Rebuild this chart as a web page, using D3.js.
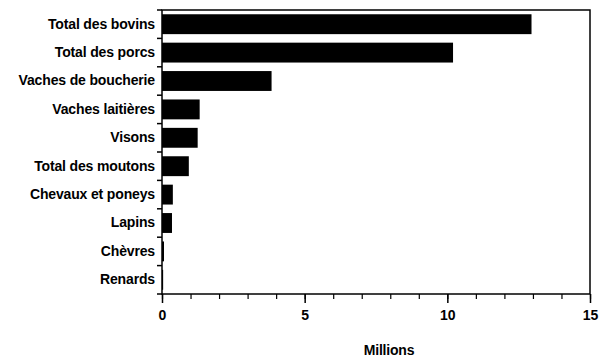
<!DOCTYPE html>
<html>
<head>
<meta charset="utf-8">
<script src="https://cdn.jsdelivr.net/npm/d3@7"></script>
<style>
body { margin:0; background:#fff; }
text { font-family: "Liberation Sans", Arial, sans-serif; font-weight:bold; fill:#000; }
</style>
</head>
<body>
<div class="chart"></div>
<script>
// categories top to bottom, values in millions
var categories = ['Total des bovins','Total des porcs','Vaches de boucherie','Vaches laitières','Visons',
	'Total des moutons','Chevaux et poneys','Lapins','Chèvres','Renards'];
var values = [12.95, 10.2, 3.84, 1.32, 1.25, 0.94, 0.38, 0.35, 0.07, 0.04];
var xTicks = [0, 5, 10, 15];
var xLabel = 'Millions';

var margin = {top:10, right:10, bottom:63, left:162},
	width = 600 - margin.left - margin.right,
	height = 357 - margin.top - margin.bottom;

var svg = d3.select('.chart').append('svg')
	.attr('width', 600)
	.attr('height', 357);

var g = svg.append('g')
	.attr('transform', 'translate(' + margin.left + ',' + margin.top + ')');

var x = d3.scaleLinear().domain([0, 15]).range([0, width]);
var y = d3.scaleBand().domain(categories).range([0, height]).paddingInner(0.3).paddingOuter(0.15);

var data = categories.map(function(c, i) { return {name:c, value:values[i]}; });

/// bars
g.selectAll('.bar')
	.data(data)
	.enter().append('rect')
	.attr('class','bar')
	.attr('x', x(0))
	.attr('y', function(d) { return y(d.name); })
	.attr('width', function(d) { return x(d.value) - x(0); })
	.attr('height', y.bandwidth())
	.attr('fill', '#000');

/// frame
g.append('rect')
	.attr('width', width)
	.attr('height', height)
	.attr('fill','none')
	.attr('stroke','#000')
	.attr('stroke-width',1.5);

/// y axis: labels centred, ticks at band edges
var yAxis = g.append('g')
	.call(d3.axisLeft(y).tickSize(0).tickPadding(7));
yAxis.select('.domain').remove();
yAxis.selectAll('text')
	.style('font-size','14px')
	.style('letter-spacing','-0.15px')
	.style('font-family','"Liberation Sans", Arial, sans-serif');

var step = height / categories.length;
g.selectAll('.ytick')
	.data(d3.range(categories.length + 1))
	.enter().append('line')
	.attr('class','ytick')
	.attr('x1', -5).attr('x2', 0)
	.attr('y1', function(i) { return i * step; })
	.attr('y2', function(i) { return i * step; })
	.attr('stroke','#000')
	.attr('stroke-width',1.5);

/// x axis
var xAxis = g.append('g')
	.attr('transform','translate(0,' + height + ')')
	.call(d3.axisBottom(x).tickValues(xTicks).tickSize(9).tickPadding(7));
xAxis.select('.domain').remove();
xAxis.selectAll('line').attr('stroke-width',1.5);
xAxis.selectAll('text')
	.style('font-size','14px')
	.style('font-family','"Liberation Sans", Arial, sans-serif');

g.append('g')
	.attr('transform','translate(0,' + height + ')')
	.call(d3.axisBottom(x).ticks(15).tickSize(5).tickFormat(''))
	.call(function(a) { a.select('.domain').remove(); a.selectAll('line').attr('stroke-width',1.2); });

svg.append('text')
	.attr('x', 389)
	.attr('y', 355)
	.style('text-anchor','middle')
	.style('font-size','14px')
	.style('letter-spacing','-0.2px')
	.text(xLabel);
</script>
</body>
</html>
